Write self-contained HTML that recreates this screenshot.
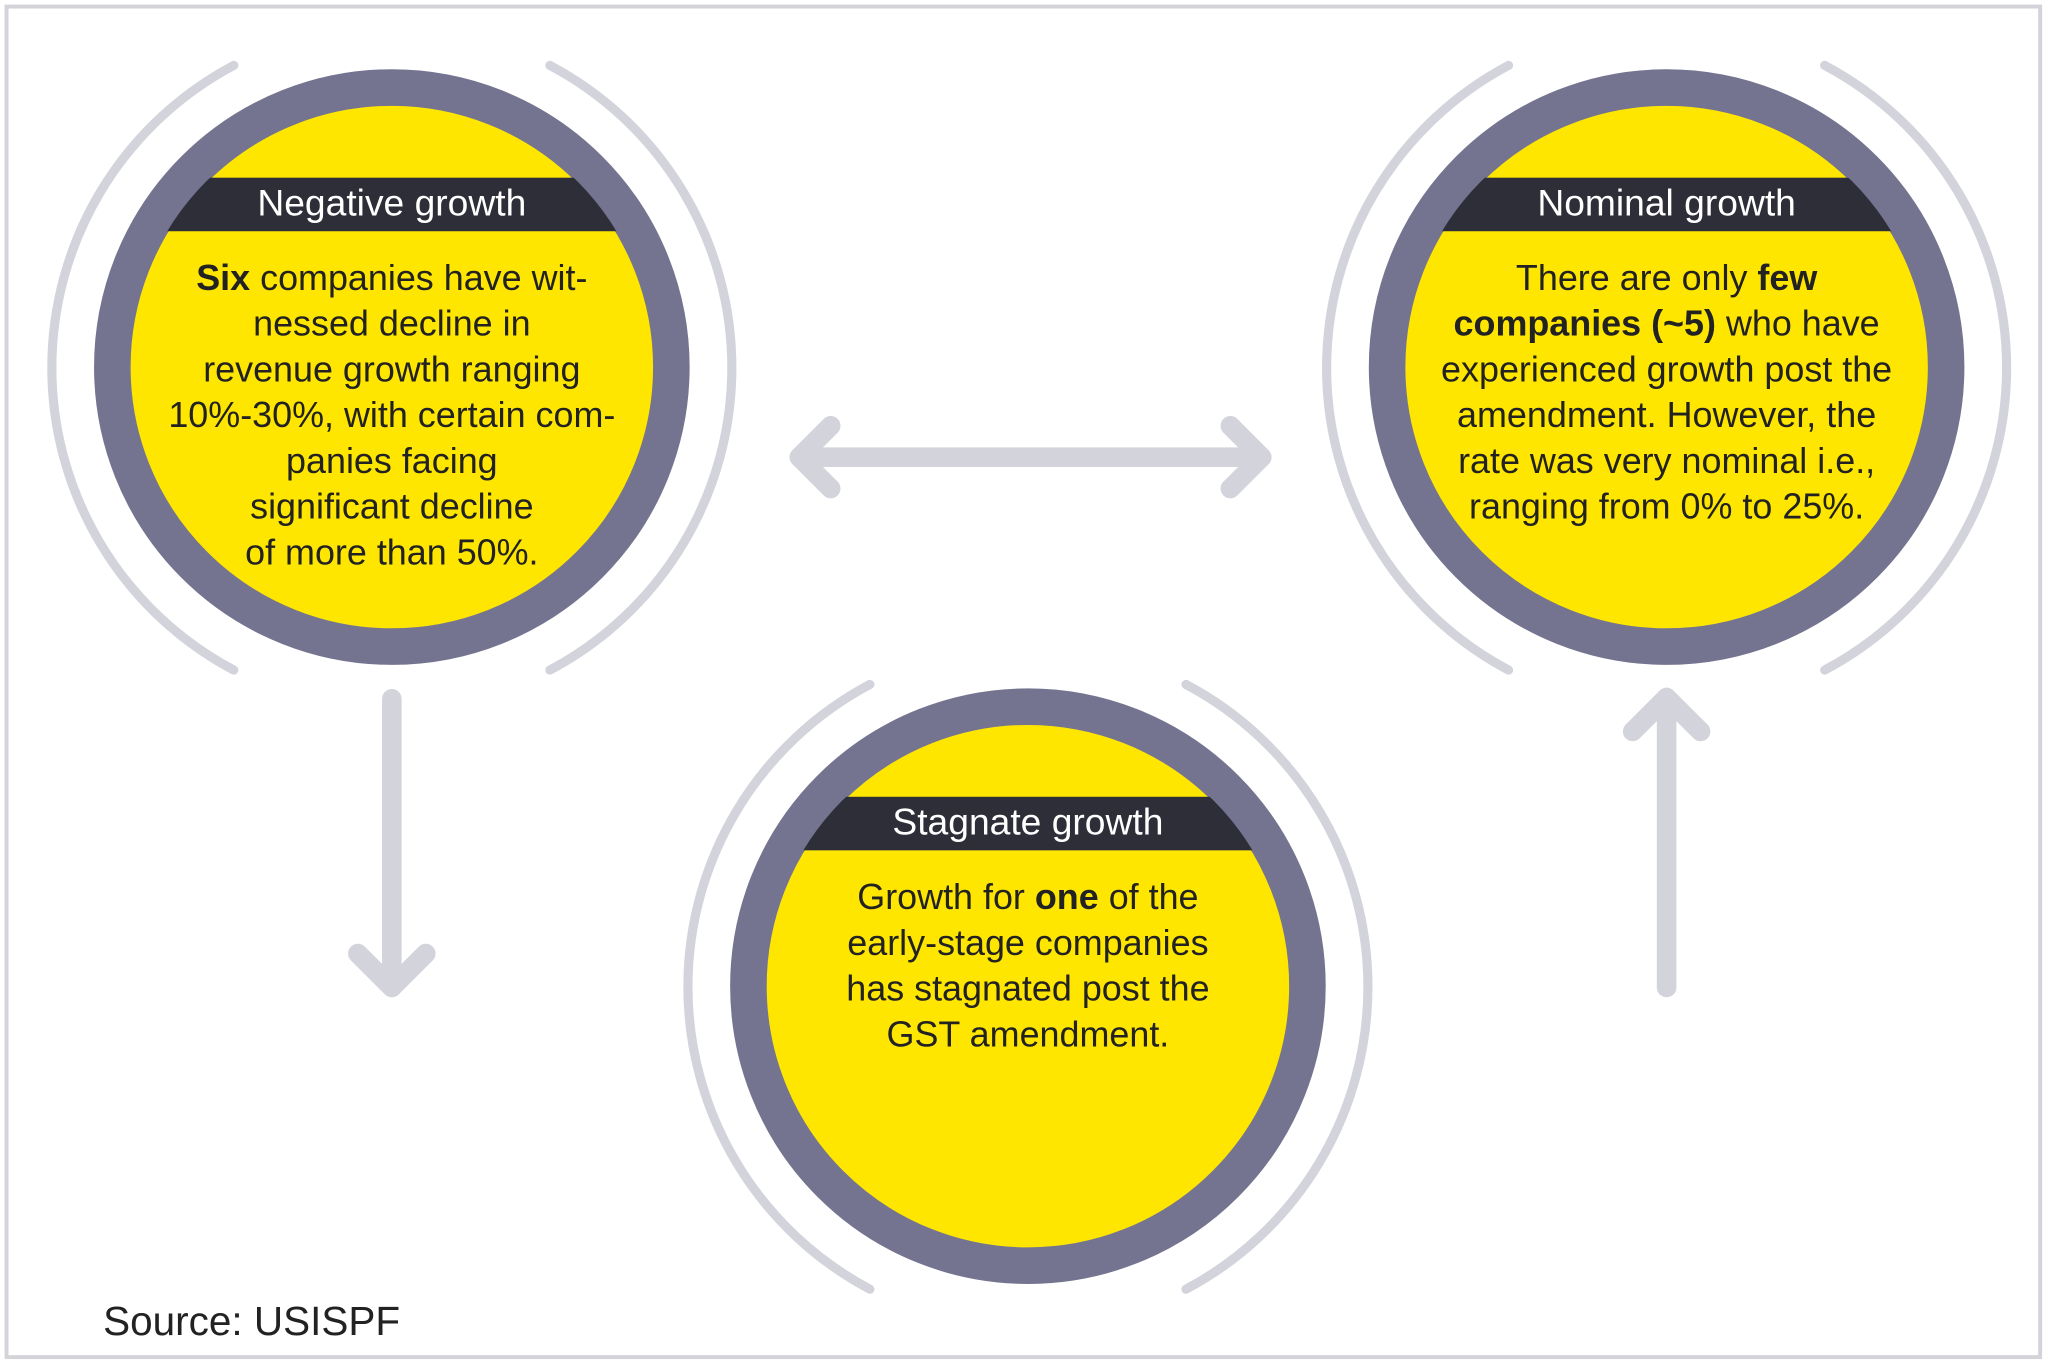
<!DOCTYPE html>
<html><head><meta charset="utf-8"><style>
html,body{margin:0;padding:0;background:#fff;}
svg{display:block;}
text{font-family:"Liberation Sans",sans-serif;}
</style></head><body>
<svg width="2048" height="1365" viewBox="0 0 1568 1045" xmlns="http://www.w3.org/2000/svg">
<defs>
<clipPath id="c1"><circle cx="300" cy="281" r="201"/></clipPath>
<clipPath id="c2"><circle cx="1276" cy="281" r="201"/></clipPath>
<clipPath id="c3"><circle cx="787" cy="755" r="201"/></clipPath>
</defs>
<rect x="0" y="0" width="1568" height="1045" fill="#fff"/>
<rect x="5" y="5" width="1557" height="1034" fill="none" stroke="#d3d3d9" stroke-width="3"/>

<g fill="none" stroke="#d3d3dc" stroke-width="7" stroke-linecap="round">
<path d="M179,50 A262,262 0 0 0 179,513"/>
<path d="M421,50 A262,262 0 0 1 421,513"/>
<path d="M1155,50 A262,262 0 0 0 1155,513"/>
<path d="M1397,50 A262,262 0 0 1 1397,513"/>
<path d="M666,524 A262,262 0 0 0 666,987"/>
<path d="M908,524 A262,262 0 0 1 908,987"/>
</g>

<g fill="none" stroke="#d3d3dc" stroke-width="15" stroke-linecap="round" stroke-linejoin="round">
<line x1="612" y1="350" x2="966" y2="350"/>
<polyline points="636,326 612,350 636,374"/>
<polyline points="942,326 966,350 942,374"/>
<line x1="300" y1="535" x2="300" y2="756"/>
<polyline points="274,730 300,756 326,730"/>
<line x1="1276" y1="756" x2="1276" y2="534"/>
<polyline points="1250,560 1276,534 1302,560"/>
</g>

<g>
<circle cx="300" cy="281" r="214" fill="#ffe600" stroke="#747490" stroke-width="28"/>
<rect x="80" y="136" width="440" height="41" fill="#2e2e38" clip-path="url(#c1)"/>
<circle cx="1276" cy="281" r="214" fill="#ffe600" stroke="#747490" stroke-width="28"/>
<rect x="1056" y="136" width="440" height="41" fill="#2e2e38" clip-path="url(#c2)"/>
<circle cx="787" cy="755" r="214" fill="#ffe600" stroke="#747490" stroke-width="28"/>
<rect x="567" y="610" width="440" height="41" fill="#2e2e38" clip-path="url(#c3)"/>
</g>

<g font-size="28.5" fill="#fff" text-anchor="middle">
<text x="300" y="165">Negative growth</text>
<text x="1276" y="165">Nominal growth</text>
<text x="787" y="639">Stagnate growth</text>
</g>

<g font-size="27.5" fill="#222" text-anchor="middle">
<text x="300" y="222"><tspan font-weight="bold">Six</tspan> companies have wit-</text>
<text x="300" y="257">nessed decline in</text>
<text x="300" y="292">revenue growth ranging</text>
<text x="300" y="327">10%-30%, with certain com-</text>
<text x="300" y="362">panies facing</text>
<text x="300" y="397">significant decline</text>
<text x="300" y="432">of more than 50%.</text>

<text x="1276" y="222">There are only <tspan font-weight="bold">few</tspan></text>
<text x="1276" y="257"><tspan font-weight="bold">companies (~5)</tspan> who have</text>
<text x="1276" y="292">experienced growth post the</text>
<text x="1276" y="327">amendment. However, the</text>
<text x="1276" y="362">rate was very nominal i.e.,</text>
<text x="1276" y="397">ranging from 0% to 25%.</text>

<text x="787" y="696">Growth for <tspan font-weight="bold">one</tspan> of the</text>
<text x="787" y="731">early-stage companies</text>
<text x="787" y="766">has stagnated post the</text>
<text x="787" y="801">GST amendment.</text>
</g>

<text x="79" y="1022" font-size="31" fill="#222">Source: USISPF</text>
</svg>
</body></html>
